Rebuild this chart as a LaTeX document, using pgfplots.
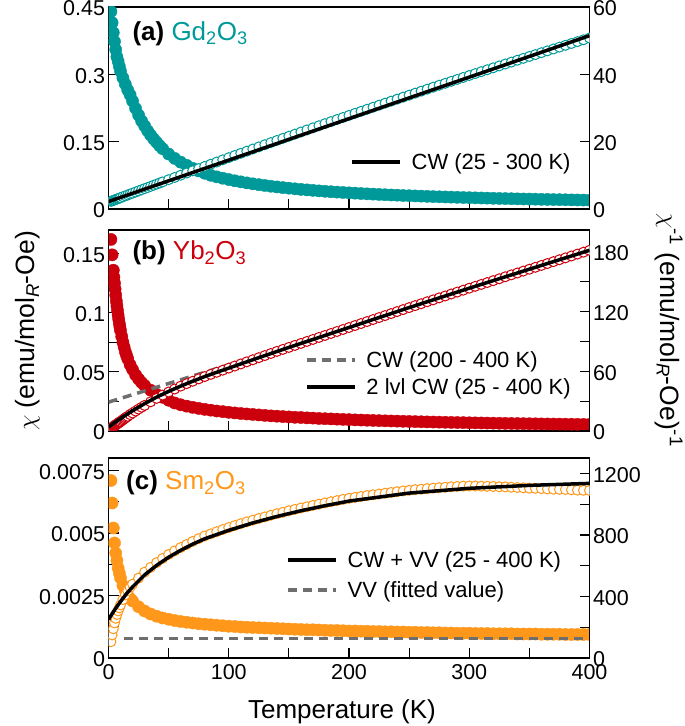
\documentclass[border=0pt]{standalone}
\usepackage{fontspec}
\setmainfont{Liberation Sans}
\usepackage{pgfplots}
\usepackage{pgfplotstable}
\pgfplotsset{compat=1.18}
\definecolor{cGd}{RGB}{0,153,153}
\definecolor{cYb}{RGB}{204,0,12}
\definecolor{cSm}{RGB}{255,152,26}
\definecolor{cGray}{RGB}{110,110,110}

\pgfplotstableread{
T chi inv
2 0.440 2.272
3 0.415 2.408
4 0.393 2.543
5 0.373 2.679
6 0.355 2.815
7 0.339 2.950
8 0.329 3.086
9 0.318 3.221
10 0.307 3.357
12 0.292 3.627
14 0.278 3.897
16 0.265 4.167
18 0.254 4.437
20 0.2406 4.706
22.5 0.2241 5.042
25 0.2093 5.378
27.5 0.1963 5.714
30 0.1852 6.049
32.5 0.1744 6.383
35 0.1648 6.717
37.5 0.1562 7.051
40 0.1485 7.384
42.5 0.1409 7.717
45 0.1342 8.049
50 0.1225 8.713
55 0.1127 9.374
60 0.1043 10.034
65 0.0972 10.692
70 0.0905 11.349
75 0.0847 12.003
80 0.0796 12.656
85 0.0751 13.307
90 0.0716 13.957
95 0.0685 14.604
100 0.0656 15.250
105 0.0629 15.894
110 0.0605 16.537
115 0.0582 17.177
120 0.0561 17.816
125 0.0542 18.453
130 0.0524 19.089
135 0.0507 19.722
140 0.0491 20.354
145 0.0477 20.984
150 0.0463 21.613
155 0.0450 22.239
160 0.0437 22.864
165 0.0426 23.487
170 0.0415 24.109
175 0.0404 24.728
180 0.0395 25.346
185 0.0385 25.962
190 0.0376 26.577
195 0.0368 27.189
200 0.0360 27.800
205 0.0352 28.409
210 0.0345 29.017
215 0.0338 29.622
220 0.0331 30.226
225 0.0324 30.828
230 0.0318 31.429
235 0.0312 32.027
240 0.0307 32.624
245 0.0301 33.219
250 0.0296 33.813
255 0.0291 34.404
260 0.0286 34.994
265 0.0281 35.582
270 0.0276 36.169
275 0.0272 36.753
280 0.0268 37.336
285 0.0264 37.917
290 0.0260 38.497
295 0.0256 39.074
300 0.0252 39.650
305 0.0249 40.224
310 0.0245 40.797
315 0.0242 41.367
320 0.0238 41.936
325 0.0235 42.503
330 0.0232 43.069
335 0.0229 43.632
340 0.0226 44.194
345 0.0223 44.754
350 0.0221 45.313
355 0.0218 45.869
360 0.0215 46.424
365 0.0213 46.977
370 0.0210 47.529
375 0.0208 48.078
380 0.0206 48.626
385 0.0203 49.172
390 0.0201 49.717
395 0.0199 50.259
400 0.0197 50.800
}\gd

\pgfplotstableread{
T chi inv
2 0.162 2.7
3 0.149 3.5
4 0.136 4.4
4.5 0.130 4.85
5 0.125 5.3
5.5 0.120 5.7
6 0.115 6.1
6.5 0.110 6.55
7 0.106 7.0
7.5 0.102 7.4
8 0.098 7.8
8.5 0.0945 8.25
9 0.091 8.7
9.5 0.088 9.1
10 0.085 9.5
11 0.080 10.4
12 0.075 11.3
13 0.071 12.2
14 0.067 13.1
15 0.064 13.95
16 0.061 14.8
18 0.056 16.5
20 0.052 18.1
22.5 0.0475 20.05
25 0.044 22.0
27.5 0.041 23.85
30 0.0385 25.7
35 0.0345 29.3
40 0.031 32.8
45 0.0285 36.1
50 0.026 39.2
55 0.0237 42.2
60 0.0222 45.1
65 0.0210 47.6
70 0.0200 50.0
75 0.0191 52.4
80 0.0183 54.7
85 0.0176 56.9
90 0.0169 59.0
95 0.0164 61.1
100 0.0158 63.2
105 0.0153 65.3
110 0.0148 67.4
115 0.0144 69.5
120 0.0140 71.6
125 0.0136 73.7
130 0.0132 75.8
135 0.0128 77.9
140 0.0125 80.0
145 0.0122 82.0
150 0.0119 84.0
155 0.0116 86.0
160 0.0114 88.0
165 0.0111 90.0
170 0.0109 92.0
175 0.0106 94.0
180 0.0104 96.0
185 0.0102 98.0
190 0.0100 100.0
195 0.0098 102.0
200 0.0096 104.0
205 0.0094 106.0
210 0.00926 108.0
215 0.00909 110.0
220 0.00893 112.0
225 0.00877 114.0
230 0.00862 116.0
235 0.00847 118.0
240 0.00833 120.0
245 0.00820 122.0
250 0.00806 124.0
255 0.00794 126.0
260 0.00782 127.9
265 0.00770 129.9
270 0.00759 131.8
275 0.00747 133.8
280 0.00737 135.7
285 0.00726 137.7
290 0.00716 139.6
295 0.00707 141.5
300 0.00697 143.5
305 0.00688 145.4
310 0.00679 147.3
315 0.00670 149.2
320 0.00662 151.1
325 0.00654 153.0
330 0.00645 155.0
335 0.00637 156.9
340 0.00630 158.8
345 0.00622 160.7
350 0.00615 162.6
355 0.00608 164.5
360 0.00601 166.4
365 0.00594 168.3
370 0.00588 170.2
375 0.00581 172.1
380 0.00575 174.0
385 0.00569 175.9
390 0.00562 177.8
395 0.00556 179.7
400 0.00551 181.6
}\yb

\pgfplotstableread{
T chi inv
2 0.0071 106
3 0.0062 150
4 0.0052 190
5 0.0046 228
6 0.0042 258
7 0.0039 283
8 0.0036 306
9 0.0034 326
10 0.0032 345
12 0.0029 380
14 0.0027 410
16 0.0025 437
18 0.00238 460
20 0.00228 480
25 0.00205 519
30 0.00188 558
35 0.00176 589
40 0.00167 620
45 0.00160 647
50 0.00155 673
55 0.00150 696
60 0.00146 718
65 0.00143 738
70 0.00140 758
75 0.00137 776
80 0.00135 793
85 0.00133 807
90 0.00131 821
95 0.00129 835
100 0.00127 848
105 0.00126 861
110 0.00124 873
115 0.00123 885
120 0.00122 896
125 0.00121 907
130 0.00120 917
135 0.00119 928
140 0.00118 938
145 0.00117 947
150 0.00116 957
155 0.00115 966
160 0.00114 975
165 0.00113 983
170 0.00113 992
175 0.00112 1000
180 0.00111 1008
185 0.00110 1016
190 0.00110 1023
195 0.00109 1031
200 0.00108 1038
205 0.00108 1044
210 0.00107 1050
215 0.00107 1056
220 0.00106 1061
225 0.00106 1066
230 0.00105 1071
235 0.00105 1076
240 0.00104 1081
245 0.00104 1086
250 0.00103 1090
255 0.00103 1094
260 0.00102 1097
265 0.00102 1101
270 0.00101 1104
275 0.00101 1107
280 0.00100 1110
285 0.00100 1113
290 0.00099 1115
295 0.00099 1117
300 0.00099 1118
305 0.00098 1118
310 0.00098 1117
315 0.00098 1116
320 0.00097 1115
325 0.00097 1113
330 0.00097 1112
335 0.00097 1110
340 0.00096 1108
345 0.00096 1106
350 0.00096 1104
355 0.00096 1103
360 0.00095 1101
365 0.00095 1099
370 0.00095 1097
375 0.00095 1096
380 0.00094 1095
385 0.00094 1093
390 0.00094 1091
395 0.00094 1090
400 0.00094 1089
}\sm

\pgfplotsset{
  panel/.style={scale only axis, width=481pt, anchor=south west,
    xmin=0, xmax=400, xtick={0,100,200,300,400}, minor xtick={50,150,250,350},
    tick align=inside, major tick length=10pt, minor tick length=10pt,
    every tick/.style={black, line width=1.2pt},
    axis line style={black, line width=1.3pt},
    tick label style={font=\fontsize{21.5}{25}\selectfont, black},
    xticklabel style={yshift=-3pt},
    yticklabel style={yshift=-1.5pt},
    scaled y ticks=false, clip marker paths=true},
  leftpanel/.style={panel, xtick pos=left, ytick pos=left},
  rightpanel/.style={panel, hide x axis, axis y line*=right, ytick pos=right, tick align=inside},
  filled/.style={only marks, mark=*, mark size=6.1pt, color=#1},
  open/.style={only marks, mark=*, mark size=5pt, color=#1, mark options={fill=white, draw=#1, line width=1pt}},
  fitline/.style={black, line width=3.5pt,
    legend image code/.code={\draw[black, line width=3.5pt] (0pt,0pt) -- (48pt,0pt);}},
  dashline/.style={cGray, line width=3.5pt, dash pattern=on 9pt off 6pt,
    legend image code/.code={\draw[cGray, line width=3.5pt, dash pattern=on 9pt off 6pt] (0pt,0pt) -- (48pt,0pt);}},
  legbase/.style={legend cell align=left, legend style={draw=none, fill=none, inner sep=0pt,
    font=\fontsize{22}{26}\selectfont, nodes={inner sep=2pt},
    /tikz/every odd column/.append style={column sep=8pt}}},
}

\begin{document}
\begin{tikzpicture}
\useasboundingbox (0pt,0pt) rectangle (685pt,726pt);

% ---------- (a) Gd2O3 ----------
\begin{axis}[leftpanel, at={(108.5pt,517pt)}, height=202pt,
  ymin=0, ymax=0.45, ytick={0,0.15,0.3,0.45}, yticklabels={0,0.15,0.3,0.45},
  xticklabels={}]
\addplot[filled=cGd] table[x=T,y=chi]{\gd};
\node[anchor=base west, inner sep=0pt, font=\fontsize{26}{30}\selectfont] at (rel axis cs:0.0495,0.8366)
  {\textbf{(a)} \textcolor{cGd}{Gd\textsubscript{2}O\textsubscript{3}}};
\end{axis}
\begin{axis}[rightpanel, at={(108.5pt,517pt)}, height=202pt,
  ymin=0, ymax=60, ytick={0,20,40,60}, yticklabels={0,20,40,60},
  legbase, legend style={at={(0.502,0.2327)}, anchor=west}]
\addplot[open=cGd, forget plot] table[x=T,y=inv]{\gd};
\addplot[fitline] coordinates {(0,2.2) (400,51.48)};
\addlegendentry{CW (25 - 300 K)}
\end{axis}

% ---------- (b) Yb2O3 ----------
\begin{axis}[leftpanel, at={(108.5pt,295pt)}, height=201pt,
  ymin=0, ymax=0.17, ytick={0,0.05,0.1,0.15}, yticklabels={0,0.05,0.1,0.15},
  minor ytick={0.025,0.075,0.125}, xticklabels={}]
\addplot[filled=cYb] table[x=T,y=chi]{\yb};
\node[anchor=base west, inner sep=0pt, font=\fontsize{26}{30}\selectfont] at (rel axis cs:0.0495,0.851)
  {\textbf{(b)} \textcolor{cYb}{Yb\textsubscript{2}O\textsubscript{3}}};
\end{axis}
\begin{axis}[rightpanel, at={(108.5pt,295pt)}, height=201pt,
  ymin=0, ymax=202, ytick={0,60,120,180}, yticklabels={0,60,120,180},
  minor ytick={30,90,150},
  legbase, legend style={at={(0.408,0.286)}, anchor=west, row sep=6pt}]
\addplot[dashline] coordinates {(0,29) (400,179)};
\addlegendentry{CW (200 - 400 K)}
\addplot[open=cYb, forget plot] table[x=T,y=inv]{\yb};
\addplot[fitline] coordinates {(0,4.0) (2,5.7) (5,8.3) (10,12.5) (15,16.5) (20,20.3) (30,27.5) (40,34.0) (50,39.8) (60,45.1) (70,50.0) (80,54.7) (90,59.0) (100,63.2) (125,73.7) (150,84.0) (200,104.0) (250,124.0) (300,143.5) (350,162.6) (400,181.6)};
\addlegendentry{2 lvl CW (25 - 400 K)}
\end{axis}

% ---------- (c) Sm2O3 ----------
\begin{axis}[leftpanel, at={(108.5pt,68pt)}, height=200pt,
  ymin=0, ymax=0.008, ytick={0,0.0025,0.005,0.0075}, yticklabels={0,0.0025,0.005,0.0075},
  minor ytick={0.00125,0.00375,0.00625},
  xticklabels={0,100,200,300,400}]
\addplot[filled=cSm] table[x=T,y=chi]{\sm};
\addplot[dashline] coordinates {(13,0.00077) (400,0.00077)};
\node[anchor=base west, inner sep=0pt, font=\fontsize{26}{30}\selectfont] at (rel axis cs:0.0364,0.84)
  {\textbf{(c)} \textcolor{cSm}{Sm\textsubscript{2}O\textsubscript{3}}};
\end{axis}
\begin{axis}[rightpanel, at={(108.5pt,68pt)}, height=200pt,
  ymin=0, ymax=1300, ytick={0,400,800,1200}, yticklabels={0,400,800,1200},
  minor ytick={200,600,1000},
  legbase, legend style={at={(0.369,0.415)}, anchor=west, row sep=9pt}]
\addplot[open=cSm, forget plot] table[x=T,y=inv]{\sm};
\addplot[fitline] coordinates {(0,250) (5,312) (10,367) (15,418) (20,462) (30,540) (40,602) (50,655) (60,700) (70,740) (80,775) (100,830) (120,878) (140,920) (160,957) (180,990) (200,1020) (250,1072) (300,1103) (350,1122) (400,1135)};
\addlegendentry{CW + VV (25 - 400 K)}
\addlegendimage{dashline}
\addlegendentry{VV (fitted value)}
\end{axis}

% ---------- axis titles ----------
\node[rotate=90, inner sep=0pt, font=\fontsize{26.5}{30}\selectfont] at (28pt,395pt)
  {$\chi$ (emu/mol\textsubscript{\textit{R}}-Oe)};
\node[rotate=-90, inner sep=0pt, font=\fontsize{26.5}{30}\selectfont] at (669pt,396pt)
  {$\chi$\textsuperscript{-1} (emu/mol\textsubscript{\textit{R}}-Oe)\textsuperscript{-1}};
\node[anchor=base, inner sep=0pt, font=\fontsize{26}{30}\selectfont] at (342pt,7pt)
  {Temperature (K)};
\end{tikzpicture}
\end{document}
